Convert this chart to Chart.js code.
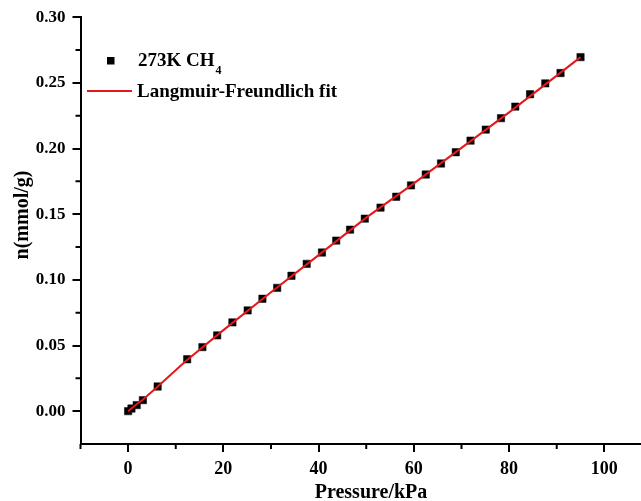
<!DOCTYPE html>
<html>
<head>
<meta charset="utf-8">
<script src="https://cdn.jsdelivr.net/npm/chart.js@4.4.1/dist/chart.umd.min.js"></script>
<style>
  html, body { margin: 0; padding: 0; background: #fff; }
  #wrap { width: 641px; height: 501px; position: relative; }
</style>
</head>
<body>
<div id="wrap"><canvas id="isoChart"></canvas></div>
<script>
// measured CH4 uptake at 273 K
const pressure = [0, 0.7, 1.8, 3.1, 6.2, 12.4, 15.6, 18.7, 21.9, 25.1, 28.2, 31.3, 34.3, 37.5, 40.7,
  43.7, 46.6, 49.7, 53.0, 56.3, 59.4, 62.5, 65.7, 68.8, 71.9, 75.1, 78.3, 81.3, 84.4, 87.6, 90.8, 95.0];
const uptake = [0.000, 0.002, 0.0046, 0.0084, 0.0188, 0.0395, 0.0488, 0.0577, 0.0676, 0.0767, 0.0856,
  0.0939, 0.1031, 0.1122, 0.1208, 0.1299, 0.1382, 0.1466, 0.1550, 0.1633, 0.1719, 0.1802, 0.1886,
  0.1972, 0.2060, 0.2144, 0.2231, 0.2319, 0.2413, 0.2496, 0.2575, 0.2696];

// Langmuir-Freundlich fit curve
const fitPressure = [0, 1, 2, 3, 6, 12, 20, 30, 40, 50, 60, 70, 80, 90, 95];
const fitUptake = [0.000, 0.003, 0.0058, 0.0085, 0.018, 0.0378, 0.0617, 0.0905, 0.1188, 0.1474,
  0.1735, 0.2005, 0.2275, 0.2555, 0.2696];

const xTicks = [0, 20, 40, 60, 80, 100];
const xMinor = [-10, 10, 30, 50, 70, 90];
const yTicks = [0, 0.05, 0.10, 0.15, 0.20, 0.25, 0.30];
const yMinor = [0.025, 0.075, 0.125, 0.175, 0.225, 0.275];

const xTitle = "Pressure/kPa";
const yTitle = "n(mmol/g)";
const seriesLabel = "273K CH";
const seriesSub = "4";
const fitLabel = "Langmuir-Freundlich fit";

const FONT = "'Liberation Serif', 'Times New Roman', serif";
const RED = "#e5161c";

const toXY = (xs, ys) => xs.map((x, i) => ({ x: x, y: ys[i] }));

const decorations = {
  id: "decorations",
  afterDraw(chart) {
    const ctx = chart.ctx;
    const xs = chart.scales.x, ys = chart.scales.y;
    const area = chart.chartArea;
    ctx.save();
    ctx.strokeStyle = "#000";
    ctx.lineWidth = 2;
    ctx.beginPath();
    // x axis runs on to the edge of the picture
    ctx.moveTo(area.right - 1, area.bottom);
    ctx.lineTo(chart.width, area.bottom);
    // minor ticks
    xMinor.forEach(v => {
      const px = xs.getPixelForValue(v);
      ctx.moveTo(px, area.bottom);
      ctx.lineTo(px, area.bottom + 5);
    });
    yMinor.forEach(v => {
      const py = ys.getPixelForValue(v);
      ctx.moveTo(area.left, py);
      ctx.lineTo(area.left - 5, py);
    });
    ctx.stroke();

    // axis titles
    ctx.fillStyle = "#000";
    ctx.font = "bold 20px " + FONT;
    ctx.textAlign = "center";
    ctx.textBaseline = "alphabetic";
    ctx.fillText(xTitle, 371, 498);
    ctx.save();
    ctx.translate(28, 215);
    ctx.rotate(-Math.PI / 2);
    ctx.fillText(yTitle, 0, 0);
    ctx.restore();

    // legend
    ctx.fillStyle = "#000";
    ctx.fillRect(107, 57, 7.5, 7.5);
    ctx.font = "bold 19px " + FONT;
    ctx.textAlign = "left";
    ctx.fillText(seriesLabel, 138, 66);
    const w = ctx.measureText(seriesLabel).width;
    ctx.font = "bold 12px " + FONT;
    ctx.fillText(seriesSub, 138 + w + 1, 74);
    ctx.strokeStyle = RED;
    ctx.lineWidth = 2;
    ctx.beginPath();
    ctx.moveTo(87, 91);
    ctx.lineTo(132, 91);
    ctx.stroke();
    ctx.font = "bold 19px " + FONT;
    ctx.fillText(fitLabel, 137, 97);
    ctx.restore();
  }
};

new Chart(document.getElementById("isoChart"), {
  type: "scatter",
  data: {
    datasets: [
      {
        label: fitLabel,
        data: toXY(fitPressure, fitUptake),
        showLine: true,
        borderColor: RED,
        borderWidth: 2,
        pointRadius: 0,
        tension: 0,
        order: 0,
      },
      {
        label: seriesLabel + seriesSub,
        data: toXY(pressure, uptake),
        pointStyle: "rect",
        pointRadius: 5.2,
        backgroundColor: "#000",
        borderColor: "#000",
        borderWidth: 0.5,
        order: 1,
      },
    ],
  },
  options: {
    responsive: true,
    maintainAspectRatio: false,
    animation: false,
    layout: { padding: { left: 0, top: 17, right: 0, bottom: 0 } },
    plugins: { legend: { display: false }, tooltip: { enabled: false } },
    scales: {
      x: {
        type: "linear",
        min: -10,
        max: 106.5,
        afterFit: (s) => { s.height = 57; },
        afterBuildTicks: (s) => { s.ticks = xTicks.map(v => ({ value: v })); },
        grid: { drawOnChartArea: false, drawTicks: true, tickLength: 8, lineWidth: 2, color: "#000" },
        border: { display: true, width: 2, color: "#000" },
        ticks: {
          color: "#000",
          padding: 7,
          maxRotation: 0,
          font: { family: FONT, size: 18, weight: "bold" },
          callback: (v) => String(v),
        },
      },
      y: {
        type: "linear",
        min: -0.025,
        max: 0.30,
        afterFit: (s) => { s.width = 80.5; },
        afterBuildTicks: (s) => { s.ticks = yTicks.map(v => ({ value: v })); },
        grid: { drawOnChartArea: false, drawTicks: true, tickLength: 8, lineWidth: 2, color: "#000" },
        border: { display: true, width: 2, color: "#000" },
        ticks: {
          color: "#000",
          padding: 7,
          font: { family: FONT, size: 17, weight: "bold" },
          callback: (v) => Number(v).toFixed(2),
        },
      },
    },
  },
  plugins: [decorations],
});
</script>
</body>
</html>
